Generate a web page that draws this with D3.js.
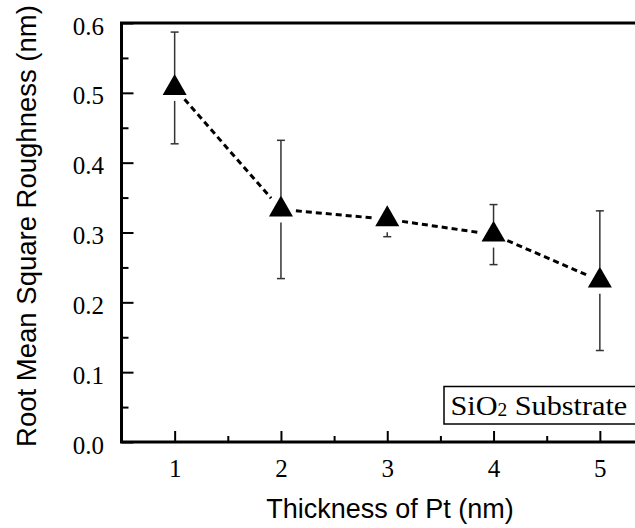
<!DOCTYPE html>
<html>
<head>
<meta charset="utf-8">
<script src="https://cdn.jsdelivr.net/npm/d3@7"></script>
<style>
  body { margin: 0; background: #fff; }
  svg { display: block; }
</style>
</head>
<body>
<svg id="chart" width="635" height="528"></svg>
<script>
// data
const thickness = [1, 2, 3, 4, 5]
const rms = [0.507, 0.333, 0.319, 0.297, 0.231]
const rmsErr = [0.080, 0.099, 0.025, 0.043, 0.100]
const yTicks = [0, 0.1, 0.2, 0.3, 0.4, 0.5, 0.6]
const yMinor = [0.05, 0.15, 0.25, 0.35, 0.45, 0.55]
const xTicks = [1, 2, 3, 4, 5]
const xMinor = [1.5, 2.5, 3.5, 4.5]

const plotLeft = 121.5, plotRight = 653, plotTop = 23, plotBottom = 442
const markerGap = 13
const lineTrim = 15

const svg = d3.select('#chart')

const x = d3.scaleLinear().domain([0.5, 5.5]).range([plotLeft, plotRight])
const y = d3.scaleLinear().domain([0, 0.6]).range([plotBottom, plotTop])

const serif = '"Liberation Serif", "Times New Roman", serif'
const sans = '"Liberation Sans", Arial, sans-serif'

// minor ticks first, so the major ones sit on top
svg.append('g')
	.attr('transform', `translate(${plotLeft},0)`)
	.call(d3.axisLeft(y).tickValues(yMinor).tickSizeInner(-7).tickSizeOuter(0).tickFormat(''))
	.call(g => g.select('.domain').remove())
	.call(g => g.selectAll('line').attr('stroke', '#000').attr('stroke-width', 2))

svg.append('g')
	.attr('transform', `translate(0,${plotBottom})`)
	.call(d3.axisBottom(x).tickValues(xMinor).tickSizeInner(-6).tickSizeOuter(0).tickFormat(''))
	.call(g => g.select('.domain').remove())
	.call(g => g.selectAll('line').attr('stroke', '#000').attr('stroke-width', 2))

svg.append('g')
	.attr('transform', `translate(${plotLeft},0)`)
	.call(d3.axisLeft(y).tickValues(yTicks).tickSizeInner(-12).tickSizeOuter(0)
		.tickPadding(17.5).tickFormat(d3.format('.1f')))
	.call(g => g.select('.domain').remove())
	.call(g => g.selectAll('line').attr('stroke', '#000').attr('stroke-width', 2))
	.call(g => g.selectAll('text')
		.attr('dy', '0.44em')
		.attr('fill', '#000')
		.style('font-family', serif)
		.style('font-size', '25px'))

svg.append('g')
	.attr('transform', `translate(0,${plotBottom})`)
	.call(d3.axisBottom(x).tickValues(xTicks).tickSizeInner(-11).tickSizeOuter(0)
		.tickPadding(17.5).tickFormat(d3.format('d')))
	.call(g => g.select('.domain').remove())
	.call(g => g.selectAll('line').attr('stroke', '#000').attr('stroke-width', 2))
	.call(g => g.selectAll('text')
		.attr('fill', '#000')
		.style('font-family', serif)
		.style('font-size', '25px'))

// frame (right side runs off the page like the original)
svg.append('rect')
	.attr('x', plotLeft).attr('y', plotTop)
	.attr('width', plotRight - plotLeft).attr('height', plotBottom - plotTop)
	.attr('fill', 'none')
	.attr('stroke', '#000')
	.attr('stroke-width', 3)

const pts = thickness.map((t, i) => ({ t, v: rms[i], e: rmsErr[i], cx: x(t), cy: y(rms[i]) }))

// dashed connecting line, trimmed short of each marker
const segs = d3.pairs(pts).map(([a, b]) => {
	const dx = b.cx - a.cx, dy = b.cy - a.cy
	const len = Math.hypot(dx, dy)
	const ux = dx / len, uy = dy / len
	return [a.cx + ux * lineTrim, a.cy + uy * lineTrim, b.cx - ux * lineTrim, b.cy - uy * lineTrim]
})

svg.append('g')
	.selectAll('line')
	.data(segs)
	.join('line')
		.attr('x1', d => d[0]).attr('y1', d => d[1])
		.attr('x2', d => d[2]).attr('y2', d => d[3])
		.attr('stroke', '#000')
		.attr('stroke-width', 3)
		.attr('stroke-dasharray', '6,4')

// error bars, with a gap around the marker
const bars = svg.append('g')
	.attr('stroke', '#333')
	.attr('stroke-width', 1.5)
	.attr('fill', 'none')

pts.forEach(p => {
	const yTop = y(p.v + p.e), yBot = y(p.v - p.e)
	if (p.cy - markerGap - yTop > 5) {
		bars.append('line').attr('x1', p.cx).attr('x2', p.cx).attr('y1', yTop).attr('y2', p.cy - markerGap)
		bars.append('line').attr('x1', p.cx - 4).attr('x2', p.cx + 4).attr('y1', yTop).attr('y2', yTop)
	}
	if (yBot - (p.cy + markerGap) > 2) {
		bars.append('line').attr('x1', p.cx).attr('x2', p.cx).attr('y1', p.cy + markerGap).attr('y2', yBot)
		bars.append('line').attr('x1', p.cx - 4).attr('x2', p.cx + 4).attr('y1', yBot).attr('y2', yBot)
	}
})

svg.append('g')
	.selectAll('path')
	.data(pts)
	.join('path')
		.attr('d', d3.symbol(d3.symbolTriangle, 250))
		.attr('transform', d => `translate(${d.cx},${d.cy})`)
		.attr('fill', '#000')

// label box
svg.append('rect')
	.attr('x', 444).attr('y', 386.5)
	.attr('width', 220).attr('height', 37.5)
	.attr('fill', '#fff')
	.attr('stroke', '#000')
	.attr('stroke-width', 1.5)

const lbl = svg.append('text')
	.attr('transform', 'translate(450.5,415) scale(1.08,1)')
	.attr('fill', '#000')
	.style('font-family', serif)
	.style('font-size', '28px')
lbl.append('tspan').text('SiO')
lbl.append('tspan').attr('font-size', '18px').attr('dy', 1).text('2')
lbl.append('tspan').attr('dy', -1).text(' Substrate')

// axis titles
svg.append('text')
	.attr('x', 390).attr('y', 518)
	.attr('text-anchor', 'middle')
	.attr('fill', '#000')
	.style('font-family', sans)
	.style('font-size', '27px')
	.text('Thickness of Pt (nm)')

svg.append('text')
	.attr('transform', 'translate(36,226) rotate(-90)')
	.attr('text-anchor', 'middle')
	.attr('fill', '#000')
	.style('font-family', sans)
	.style('font-size', '27.5px')
	.text('Root Mean Square Roughness (nm)')
</script>
</body>
</html>
